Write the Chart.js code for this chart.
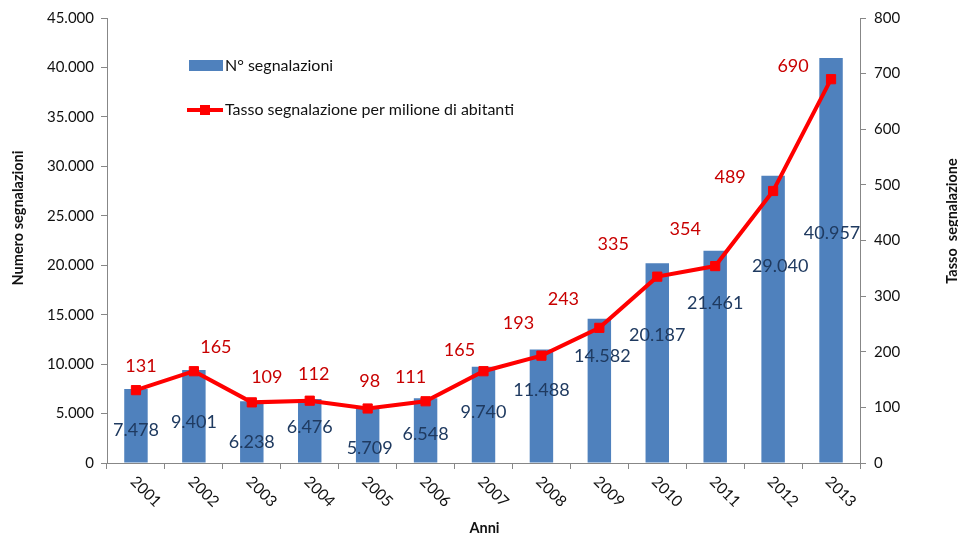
<!DOCTYPE html>
<html>
<head>
<meta charset="utf-8">
<script src="https://cdn.jsdelivr.net/npm/chart.js@4"></script>
<style>
    html, body { margin: 0; padding: 0; background: #fff; }
    #wrap { width: 958px; height: 537px; }
</style>
</head>
<body>
<div id="wrap"><canvas id="segnChart" width="958" height="537"></canvas></div>
<script>
// Anni e valori
const anni = ['2001', '2002', '2003', '2004', '2005', '2006', '2007', '2008', '2009', '2010', '2011', '2012', '2013'];
const segnalazioni = [7478, 9401, 6238, 6476, 5709, 6548, 9740, 11488, 14582, 20187, 21461, 29040, 40957];
const tasso = [131, 165, 109, 112, 98, 111, 165, 193, 243, 335, 354, 489, 690];

const FONT = 'Lato, "Open Sans", sans-serif';
const AXIS_GREY = '#878787';

// 45000 -> "45.000"
function formatIt(v) {
    return String(v).replace(/\B(?=(\d{3})+(?!\d))/g, '.');
}

// labels, titles and legend drawn by hand
const labelsPlugin = {
    id: 'labelsPlugin',
    afterDatasetsDraw(chart, args, opts) {
        const ctx = chart.ctx;
        ctx.save();
        ctx.textAlign = 'center';
        ctx.textBaseline = 'middle';
        ctx.font = '18px ' + FONT;

        // bar values
        ctx.fillStyle = '#1F3A60';
        chart.getDatasetMeta(0).data.forEach((bar, i) => {
            const off = opts.barOffsets[i];
            ctx.fillText(formatIt(segnalazioni[i]), bar.x + off[0], bar.y + off[1]);
        });

        // rate values
        ctx.fillStyle = '#C80000';
        chart.getDatasetMeta(1).data.forEach((pt, i) => {
            const off = opts.lineOffsets[i];
            ctx.fillText(String(tasso[i]), pt.x + off[0], pt.y + off[1]);
        });
        ctx.restore();
    },
    afterDraw(chart) {
        const ctx = chart.ctx;
        const xScale = chart.scales.x;
        const area = chart.chartArea;
        ctx.save();

        // rotated year labels
        ctx.fillStyle = '#111';
        ctx.font = '15.5px ' + FONT;
        ctx.textAlign = 'left';
        ctx.textBaseline = 'middle';
        anni.forEach((a, i) => {
            const x = xScale.getPixelForTick(i) - 3;
            ctx.save();
            ctx.translate(x, area.bottom + 16);
            ctx.rotate(Math.PI / 4);
            ctx.fillText(a, 0, 0);
            ctx.restore();
        });

        // axis titles
        ctx.font = 'bold 14.5px ' + FONT;
        ctx.textAlign = 'center';
        ctx.fillText('Anni', (area.left + area.right) / 2 + 1, 528);

        ctx.save();
        ctx.translate(18, 218);
        ctx.rotate(-Math.PI / 2);
        ctx.fillText('Numero segnalazioni', 0, 0);
        ctx.restore();

        ctx.save();
        ctx.translate(952, 221);
        ctx.rotate(-Math.PI / 2);
        ctx.fillText('Tasso  segnalazione', 0, 0);
        ctx.restore();

        // legend
        ctx.font = '16px ' + FONT;
        ctx.textAlign = 'left';
        ctx.fillStyle = '#4F81BD';
        ctx.fillRect(189, 60, 34, 11);
        ctx.fillStyle = '#111';
        ctx.fillText('N° segnalazioni', 225, 66);

        ctx.strokeStyle = '#FF0000';
        ctx.lineWidth = 4;
        ctx.beginPath();
        ctx.moveTo(187, 110);
        ctx.lineTo(223, 110);
        ctx.stroke();
        ctx.fillStyle = '#FF0000';
        ctx.fillRect(200, 105, 10, 10);
        ctx.fillStyle = '#111';
        ctx.fillText('Tasso segnalazione per milione di abitanti', 225, 110);

        ctx.restore();
    }
};

const ctx = document.getElementById('segnChart').getContext('2d');

const segnChart = new Chart(ctx, {
    type: 'bar',
    data: {
        labels: anni,
        datasets: [{
            type: 'bar',
            label: 'N° segnalazioni',
            data: segnalazioni,
            backgroundColor: '#4F81BD',
            borderWidth: 0,
            barPercentage: 0.405,
            categoryPercentage: 1,
            yAxisID: 'y',
            order: 2
        }, {
            type: 'line',
            label: 'Tasso segnalazione per milione di abitanti',
            data: tasso,
            borderColor: '#FF0000',
            backgroundColor: '#FF0000',
            borderWidth: 4,
            pointStyle: 'rect',
            pointRadius: 6.5,
            pointBorderWidth: 1,
            tension: 0,
            yAxisID: 'y1',
            order: 1
        }]
    },
    options: {
        responsive: false,
        animation: false,
        layout: { padding: { top: 18, left: 0, right: 0, bottom: 0 } },
        plugins: {
            legend: { display: false },
            tooltip: { enabled: false },
            labelsPlugin: {
                // nudges [dx, dy] in px from the bar top / point
                barOffsets: [[0, 41], [0, 52], [0, 41], [0, 28], [2, 42], [0, 36], [0, 46], [0, 41], [3, 37], [0, 72], [0, 52], [7, 90], [1, 175]],
                lineOffsets: [[5, -24], [22, -24], [15, -25], [4, -27], [2, -27], [-15, -24], [-24, -21], [-23, -32], [-36, -29], [-44, -32], [-30, -37], [-43, -14], [-38, -13]]
            }
        },
        scales: {
            x: {
                offset: true,
                grid: { offset: true, drawOnChartArea: false, color: AXIS_GREY, tickLength: 6 },
                border: { color: AXIS_GREY, width: 1 },
                ticks: { display: false },
                afterFit: s => { s.height = 74; }
            },
            y: {
                position: 'left',
                min: 0,
                max: 45000,
                grid: { drawOnChartArea: false, color: AXIS_GREY, tickLength: 6 },
                border: { color: AXIS_GREY, width: 1 },
                ticks: {
                    stepSize: 5000,
                    color: '#111',
                    padding: 7,
                    font: { family: FONT, size: 15 },
                    callback: v => formatIt(v)
                },
                afterFit: s => { s.width = 107; }
            },
            y1: {
                position: 'right',
                min: 0,
                max: 800,
                grid: { drawOnChartArea: false, color: AXIS_GREY, tickLength: 6 },
                border: { color: AXIS_GREY, width: 1 },
                ticks: {
                    stepSize: 100,
                    color: '#111',
                    padding: 8,
                    font: { family: FONT, size: 15 }
                },
                afterFit: s => { s.width = 98; }
            }
        }
    },
    plugins: [labelsPlugin]
});
</script>
</body>
</html>
